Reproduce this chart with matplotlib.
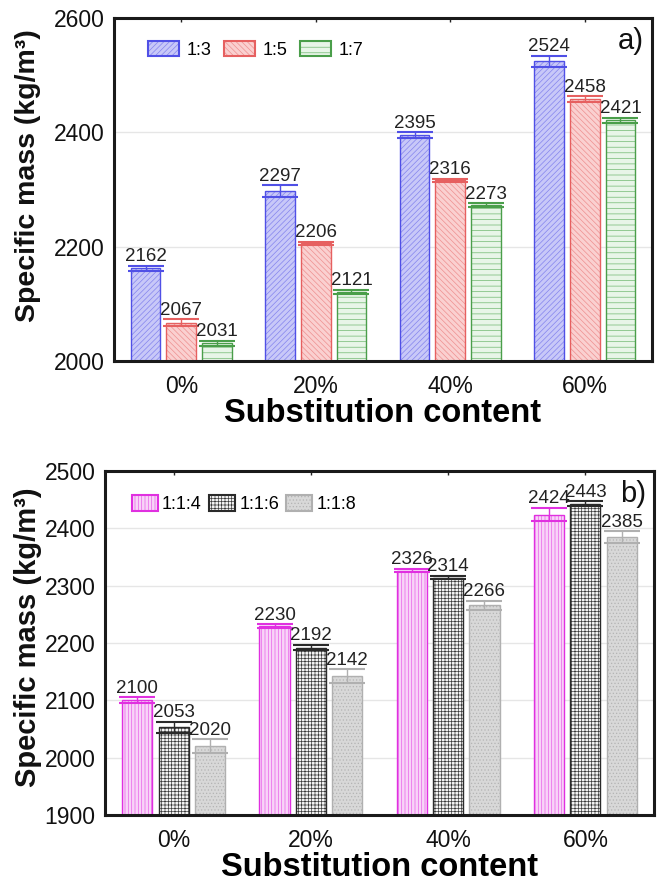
import matplotlib
matplotlib.use("Agg")
import matplotlib.pyplot as plt
import numpy as np
from matplotlib.legend_handler import HandlerTuple

plt.rcParams['font.family'] = ['Liberation Sans', 'DejaVu Sans']
plt.rcParams['hatch.linewidth'] = 0.5

categories = ['0%', '20%', '40%', '60%']

# Panel a
series_a = ['1:3', '1:5', '1:7']
vals_a = {
    '1:3': [2162, 2297, 2395, 2524],
    '1:5': [2067, 2206, 2316, 2458],
    '1:7': [2031, 2121, 2273, 2421],
}
err_a = {
    '1:3': [5, 10, 5, 10],
    '1:5': [6, 3, 3, 5],
    '1:7': [4, 4, 3, 4],
}
# Panel b
series_b = ['1:1:4', '1:1:6', '1:1:8']
vals_b = {
    '1:1:4': [2100, 2230, 2326, 2424],
    '1:1:6': [2053, 2192, 2314, 2443],
    '1:1:8': [2020, 2142, 2266, 2385],
}
err_b = {
    '1:1:4': [5, 3, 3, 12],
    '1:1:6': [10, 5, 3, 4],
    '1:1:8': [12, 12, 8, 10],
}

styles_a = {
    '1:3': dict(face='#c8c8f8', hcol='#8484ee', edge='#5050e6', hatch='//////'),
    '1:5': dict(face='#fad0d0', hcol='#ee9090', edge='#e66060', hatch='\\\\\\\\\\\\'),
    '1:7': dict(face='#e8f5e8', hcol='#70b870', edge='#4a9e4a', hatch='---'),
}
styles_b = {
    '1:1:4': dict(face='#f8d4f8', hcol='#e860e8', edge='#e030e0', hatch='|||||'),
    '1:1:6': dict(face='#f4f4f4', hcol='#3a3a3a', edge='#2a2a2a', hatch='+++++'),
    '1:1:8': dict(face='#d8d8d8', hcol='#b4b4b4', edge='#b0b0b0', hatch='.....'),
}

W, H = 661, 885
fig = plt.figure(figsize=(W/100, H/100), dpi=100)
ax1 = fig.add_axes([114/W, 1-361/H, 538/W, 343/H])
ax2 = fig.add_axes([105/W, 1-815/H, 549/W, 344/H])

def draw(ax, series, vals, errs, styles, ylim, yticks, tag):
    x = np.arange(len(categories))
    w = 0.22
    off = 0.265
    handles = []
    for i, s in enumerate(series):
        st = styles[s]
        xs = x + (i - 1) * off
        heights = np.array(vals[s]) - ylim[0]
        ax.bar(xs, heights, bottom=ylim[0], width=w,
               color=st['face'], edgecolor=st['hcol'], hatch=st['hatch'],
               linewidth=0, zorder=2)
        ax.bar(xs, heights, bottom=ylim[0], width=w, fill=False,
               edgecolor=st['edge'], linewidth=1.0, zorder=2.1)
        ax.errorbar(xs, vals[s], yerr=errs[s], fmt='none', ecolor=st['edge'],
                    elinewidth=1.0, capsize=13, capthick=1.5, zorder=3)
        for xi, v, e in zip(xs, vals[s], errs[s]):
            ax.text(xi, v + e + 1, f'{v}', ha='center', va='bottom',
                    fontsize=13.5, color='#222222', zorder=4)
        h = plt.Rectangle((0, 0), 1, 1, facecolor=st['face'],
                          edgecolor=st['hcol'], hatch=st['hatch'], linewidth=0)
        h2 = plt.Rectangle((0, 0), 1, 1, fill=False, edgecolor=st['edge'],
                           linewidth=1.5)
        handles.append((h, h2))
    ax.set_xlim(-0.5, 3.5)
    ax.set_ylim(*ylim)
    ax.set_yticks(yticks)
    ax.set_xticks(x)
    ax.set_xticklabels(categories)
    ax.yaxis.grid(True, color='#e6e6e6', linewidth=1.0, zorder=0)
    ax.set_axisbelow(True)
    ax.tick_params(axis='both', labelsize=16.5, direction='in', length=3,
                   top=True, width=1, colors='#222222', labelcolor='#111111')
    ax.tick_params(axis='x', pad=10)
    ax.tick_params(axis='y', length=0, pad=7)
    for sp in ax.spines.values():
        sp.set_linewidth(2.2)
        sp.set_color('#1a1a1a')
    ax.set_xlabel('Substitution content', fontsize=23.5, fontweight='bold',
                  labelpad=0)
    ax.text(0.985, 0.975, tag, transform=ax.transAxes, ha='right', va='top',
            fontsize=21, color='#111111')
    return handles

h1 = draw(ax1, series_a, vals_a, err_a, styles_a, (2000, 2600),
          [2000, 2200, 2400, 2600], 'a)')
h2 = draw(ax2, series_b, vals_b, err_b, styles_b, (1900, 2500),
          [1900, 2000, 2100, 2200, 2300, 2400, 2500], 'b)')

ylab = 'Specific mass (kg/m³)'
fig.text(28/W, 1-176/H, ylab, rotation=90, ha='center', va='center',
         fontsize=20.5, fontweight='bold', color='#111111')
fig.text(28/W, 1-637/H, ylab, rotation=90, ha='center', va='center',
         fontsize=21, fontweight='bold', color='#111111')

ax1.legend(h1, series_a, handler_map={tuple: HandlerTuple(ndivide=1, pad=0)},
           loc='center left', bbox_to_anchor=(0.063, 0.907), ncol=3,
           frameon=False, fontsize=13, handlelength=1.72, handleheight=0.95,
           columnspacing=0.72, handletextpad=0.4, borderpad=0, borderaxespad=0)
ax2.legend(h2, series_b, handler_map={tuple: HandlerTuple(ndivide=1, pad=0)},
           loc='center left', bbox_to_anchor=(0.049, 0.904), ncol=3,
           frameon=False, fontsize=13, handlelength=1.45, handleheight=1.0,
           columnspacing=0.4, handletextpad=0.22, borderpad=0, borderaxespad=0)

fig.savefig('out.png', dpi=100)
